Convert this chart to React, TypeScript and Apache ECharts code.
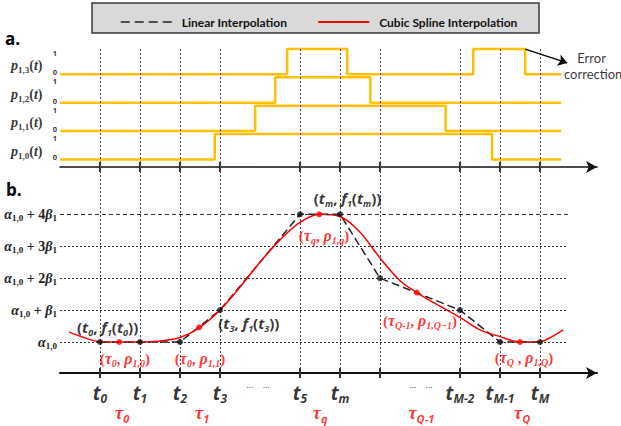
import React, { useEffect, useRef } from "react";
import * as echarts from "echarts";

// ---------- panel a : binary pulse trains ----------
const pulseSubs = ["1,0", "1,1", "1,2", "1,3"];
const pulseBaselines = [0.3, 1.42, 2.54, 3.66];
const p10Edges = [2.87, 9.8];
const p11Edges = [3.88, 8.64];
const p12Edges = [4.38, 6.76];
const p13Edges = [4.68, 6.18, 9.33, 10.63];
const pulseStart = -1;
const pulseEnd = 11.53;

// ---------- panel b : interpolation ----------
const tickPositions = [0, 1, 2, 3, 5, 6, 7, 9, 10, 11];
const tLabelValues = [0, 1, 2, 3, 5, 6, 9, 10, 11];
const tLabelSubs = ["0", "1", "2", "3", "5", "m", "M-2", "M-1", "M"];
const tauValues = [0.55, 2.55, 5.5, 8.03, 10.55];
const tauSubs = ["0", "1", "q", "Q-1", "Q"];
const ellipsisValues = [3.95, 8.02];
const levelValues = [0, 1, 2, 3, 4];
const levelCoefs = ["", "", "2", "3", "4"];

const linearX = [0, 1, 2, 3, 5, 6, 7, 9, 10, 11];
const linearY = [0, 0, 0, 1, 4, 4, 2, 1, 0, 0];
const splineX = [-0.77, -0.4, 0, 0.5, 1, 1.5, 2, 2.5, 3, 3.5, 4, 4.5, 5, 5.5, 6, 6.5, 7, 7.5, 7.92, 8.33, 9, 9.5, 10, 10.5, 11, 11.3, 11.58];
const splineY = [0.31, 0.14, 0.01, 0, 0, 0.03, 0.14, 0.46, 1, 1.72, 2.5, 3.2, 3.75, 4, 3.93, 3.44, 2.63, 1.92, 1.55, 1.24, 0.77, 0.38, 0.17, 0, 0.01, 0.17, 0.38];
const rhoX = [0.48, 2.48, 5.48, 7.92, 10.5];
const rhoY = [0, 0.46, 4, 1.55, 0];

const SANS = "'Open Sans', 'DejaVu Sans', sans-serif";
const LEG = "Lato, 'Open Sans', sans-serif";
const SERIF = "'Liberation Serif', 'DejaVu Serif', serif";

const R = (s: string, t: string) => `{${s}|${t}}`;

function pulse(edges: number[], base: number) {
  const pts: number[][] = [[pulseStart, base]];
  let lvl = 0;
  for (const e of edges) {
    pts.push([e, base + lvl]);
    lvl = 1 - lvl;
    pts.push([e, base + lvl]);
  }
  pts.push([pulseEnd, base + lvl]);
  return pts;
}

const tf = (s: string) =>
  R("p", "(") + R("i", "t") + R("s", s) + R("p", ", ") + R("i", "f") + R("s", "1") + R("p", "(") + R("i", "t") + R("s", s) + R("p", "))");
const rl = (a: string, b: string) =>
  R("rp", "(") + R("ri", "τ") + R("rs", a) + R("rp", ", ") + R("ri", "ρ") + R("rs", b) + R("rp", ")");

const bold = { fontWeight: "bold" as const };

const noteRich: any = {
  p: { ...bold, fontFamily: SANS, fontSize: 15, color: "#000", lineHeight: 20 },
  i: { ...bold, fontFamily: SANS, fontSize: 15, fontStyle: "italic", color: "#000", lineHeight: 20 },
  s: { ...bold, fontFamily: SANS, fontSize: 9, fontStyle: "italic", color: "#000", lineHeight: 12, verticalAlign: "bottom" },
  rp: { ...bold, fontFamily: SERIF, fontSize: 15, color: "#ff0000", lineHeight: 20 },
  ri: { ...bold, fontFamily: SERIF, fontSize: 16, fontStyle: "italic", color: "#ff0000", lineHeight: 20 },
  rs: { ...bold, fontFamily: SERIF, fontSize: 10, fontStyle: "italic", color: "#ff0000", lineHeight: 12, verticalAlign: "bottom" },
  T: { ...bold, fontFamily: SANS, fontSize: 19, fontStyle: "italic", color: "#000", lineHeight: 24 },
  Ts: { ...bold, fontFamily: SANS, fontSize: 12, fontStyle: "italic", color: "#000", lineHeight: 16, verticalAlign: "bottom" },
  U: { ...bold, fontFamily: SERIF, fontSize: 19, fontStyle: "italic", color: "#ff0000", lineHeight: 24 },
  Us: { ...bold, fontFamily: SANS, fontSize: 11, fontStyle: "italic", color: "#ff0000", lineHeight: 16, verticalAlign: "bottom" },
  E: { fontFamily: SANS, fontSize: 9, color: "#000" },
  P: { ...bold, fontFamily: SERIF, fontSize: 14, fontStyle: "italic", color: "#000", lineHeight: 18 },
  Pn: { ...bold, fontFamily: SERIF, fontSize: 14, color: "#000", lineHeight: 18 },
  Ps: { ...bold, fontFamily: SERIF, fontSize: 9, color: "#000", lineHeight: 11, verticalAlign: "bottom" },
  L: { ...bold, fontFamily: SANS, fontSize: 7.5, color: "#000", lineHeight: 7 },
  W: { fontFamily: LEG, fontSize: 13, color: "#000" },
};

const yRich: any = {
  g: { ...bold, fontFamily: SERIF, fontSize: 14, fontStyle: "italic", color: "#222", lineHeight: 17 },
  n: { ...bold, fontFamily: SERIF, fontSize: 14, color: "#222", lineHeight: 17 },
  s: { ...bold, fontFamily: SERIF, fontSize: 9, color: "#222", lineHeight: 11, verticalAlign: "bottom" },
};

function yLabel(v: number) {
  const k = levelValues.indexOf(Math.round(v));
  if (k < 0) return "";
  let s = R("g", "α") + R("s", "1,0");
  if (k > 0) s += R("n", ` + ${levelCoefs[k]}`) + R("g", "β") + R("s", "1");
  return s;
}

function buildOption(): any {
  const X_MIN = -1;
  const X_MAX = 12.425;
  const xAxisFor = (grid: number, inside: boolean) => ({
    type: "value",
    gridIndex: grid,
    min: X_MIN,
    max: X_MAX,
    position: "bottom",
    axisLine: {
      show: !inside,
      onZero: false,
      lineStyle: { color: "#111", width: grid === 0 ? 1.5 : 2 },
      symbol: ["none", "arrow"],
      symbolSize: [9, 11],
    },
    axisTick: { show: true, inside, length: 5, customValues: tickPositions, lineStyle: { color: "#333", width: 2 } },
    axisLabel: { show: false },
    splitLine: { show: false },
  });

  const vLines = (type: any) => ({
    silent: true,
    symbol: ["none", "none"],
    label: { show: false },
    lineStyle: { color: "#444", type, width: 1 },
    data: tickPositions.map((v) => ({ xAxis: v })),
  });

  const pulseSeries = [p10Edges, p11Edges, p12Edges, p13Edges].map((edges, k) => ({
    type: "line",
    xAxisIndex: 0,
    yAxisIndex: 0,
    data: pulse(edges, pulseBaselines[k]),
    symbol: "none",
    z: 3,
    lineStyle: { color: "#ffc000", width: 2.5 },
    markLine: k === 0 ? vLines([2, 2]) : undefined,
  }));

  const aNotes: any[] = [];
  pulseBaselines.forEach((b, k) => {
    aNotes.push({ value: [-1.13, b + 0.08], txt: R("L", "0") });
    aNotes.push({ value: [-1.13, b + 0.84], txt: R("L", "1") });
    aNotes.push({ value: [-1.83, b + 0.33], txt: R("P", "p") + R("Ps", pulseSubs[k]) + R("Pn", "(") + R("P", "t") + R("Pn", ")") });
  });
  aNotes.push({ value: [12.29, 4.31], txt: R("W", "Error") });
  aNotes.push({ value: [11.6, 3.68], txt: R("W", "correction"), label: { align: "left" } });

  const bNotes: any[] = [
    { value: [0.19, 0.46], txt: tf("0") },
    { value: [0.62, -0.52], txt: rl("0", "1,0") },
    { value: [2.5, -0.52], txt: rl("0", "1,1") },
    { value: [3.72, 0.6], txt: tf("3") },
    { value: [6.19, 4.52], txt: tf("m") },
    { value: [5.6, 3.33], txt: rl("q", "1,q") },
    { value: [8.0, 0.67], txt: rl("Q-1", "1,Q−1") },
    { value: [10.6, -0.49], txt: R("rp", "(") + R("ri", "τ") + R("rs", "Q") + R("rp", " , ") + R("ri", "ρ") + R("rs", "1,Q") + R("rp", ")") },
  ];
  tLabelValues.forEach((v, i) => bNotes.push({ value: [v, -1.59], txt: R("T", "t") + R("Ts", tLabelSubs[i]) }));
  tauValues.forEach((v, i) => bNotes.push({ value: [v, -2.2], txt: R("U", "τ") + R("Us", tauSubs[i]) }));
  ellipsisValues.forEach((v) => bNotes.push({ value: [v, -1.34], txt: R("E", "…    …") }));

  const noteSeries = (xi: number, yi: number, data: any[], extra: any = {}) => ({
    type: "scatter",
    xAxisIndex: xi,
    yAxisIndex: yi,
    data,
    symbolSize: 1,
    clip: false,
    silent: true,
    z: 6,
    itemStyle: { color: "rgba(0,0,0,0)" },
    label: {
      show: true,
      position: "inside",
      formatter: (p: any) => p.data.txt,
      rich: noteRich,
    },
    ...extra,
  });

  const hidden = { color: "rgba(0,0,0,0)", borderColor: "rgba(0,0,0,0)", borderWidth: 0 };

  return {
    animation: false,
    backgroundColor: "#ffffff",
    legend: {
      data: [
        { name: "Linear Interpolation", itemStyle: hidden, lineStyle: { type: [9, 5], width: 1.5, color: "#222" } },
        { name: "Cubic Spline Interpolation", itemStyle: hidden, lineStyle: { width: 2, color: "#ff0000" } },
      ],
      left: 115,
      top: 11,
      itemWidth: 51,
      itemHeight: 14,
      itemGap: 30,
      selectedMode: false,
      textStyle: { fontFamily: LEG, fontWeight: "bold", fontSize: 12, color: "#111", padding: [0, 0, 0, 5] },
      z: 10,
    },
    graphic: [
      { type: "rect", shape: { x: 92, y: 3, width: 447, height: 30 }, style: { fill: "#d9d9d9", stroke: "#3a3a3a", lineWidth: 1.5 }, z: 0 },
      { type: "text", style: { x: 5, y: 38, text: "a.", font: `bold 17px ${SANS}`, fill: "#000", verticalAlign: "middle" } },
      { type: "text", style: { x: 6, y: 189, text: "b.", font: `bold 17px ${SANS}`, fill: "#000", verticalAlign: "middle" } },
    ],
    grid: [
      { left: 60, right: 24, top: 48, height: 119 },
      { left: 60, right: 24, top: 168, height: 205 },
    ],
    xAxis: [xAxisFor(0, false), xAxisFor(0, true), xAxisFor(1, false), xAxisFor(1, true)],
    yAxis: [
      { type: "value", gridIndex: 0, min: 0, max: 4.7, show: false },
      {
        type: "value",
        gridIndex: 1,
        min: -0.97,
        max: 5.45,
        axisLine: { show: false },
        axisTick: { show: false },
        splitLine: { show: false },
        axisLabel: { show: true, customValues: levelValues, margin: 3, formatter: yLabel, rich: yRich },
      },
    ],
    series: [
      ...pulseSeries,
      noteSeries(0, 0, aNotes, {
        markLine: {
          silent: true,
          symbol: ["none", "arrow"],
          symbolSize: 9,
          label: { show: false },
          lineStyle: { color: "#000", width: 1.3, type: "solid" },
          data: [[{ coord: [10.63, 4.66] }, { coord: [11.68, 4.11] }]],
        },
      }),
      {
        name: "Linear Interpolation",
        type: "line",
        xAxisIndex: 2,
        yAxisIndex: 1,
        data: linearX.map((x, i) => [x, linearY[i]]),
        symbol: "none",
        z: 4,
        lineStyle: { color: "#222", type: [8, 4], width: 1.5 },
        itemStyle: { color: "#222" },
      },
      {
        name: "Cubic Spline Interpolation",
        type: "line",
        xAxisIndex: 2,
        yAxisIndex: 1,
        data: splineX.map((x, i) => [x, splineY[i]]),
        symbol: "none",
        smooth: 0.35,
        z: 4,
        lineStyle: { color: "#ff0000", width: 1.5 },
        itemStyle: { color: "#ff0000" },
      },
      {
        type: "scatter",
        xAxisIndex: 2,
        yAxisIndex: 1,
        data: linearX.map((x, i) => [x, linearY[i]]),
        symbolSize: 6,
        z: 5,
        itemStyle: { color: "#111" },
      },
      {
        type: "scatter",
        xAxisIndex: 2,
        yAxisIndex: 1,
        data: rhoX.map((x, i) => [x, rhoY[i]]),
        symbolSize: 6,
        z: 5,
        itemStyle: { color: "#ff0000" },
      },
      noteSeries(2, 1, bNotes, {
        markLine: {
          silent: true,
          symbol: ["none", "none"],
          label: { show: false },
          lineStyle: { color: "#444", type: [2, 2], width: 1 },
          data: [
            ...tickPositions.map((v) => ({ xAxis: v })),
            ...levelValues.map((l) => [
              { coord: [-1, l], lineStyle: { type: l === 4 ? [4, 3] : [2, 2], color: "#333" } },
              { coord: [11.7, l] },
            ]),
          ],
        },
      }),
    ],
  };
}

export default function App() {
  const ref = useRef<HTMLDivElement>(null);
  useEffect(() => {
    document.body.style.margin = "0";
    const chart = echarts.init(ref.current!, null, { renderer: "svg" });
    chart.setOption(buildOption());
    return () => chart.dispose();
  }, []);
  return <div ref={ref} style={{ width: 621, height: 426 }} />;
}
